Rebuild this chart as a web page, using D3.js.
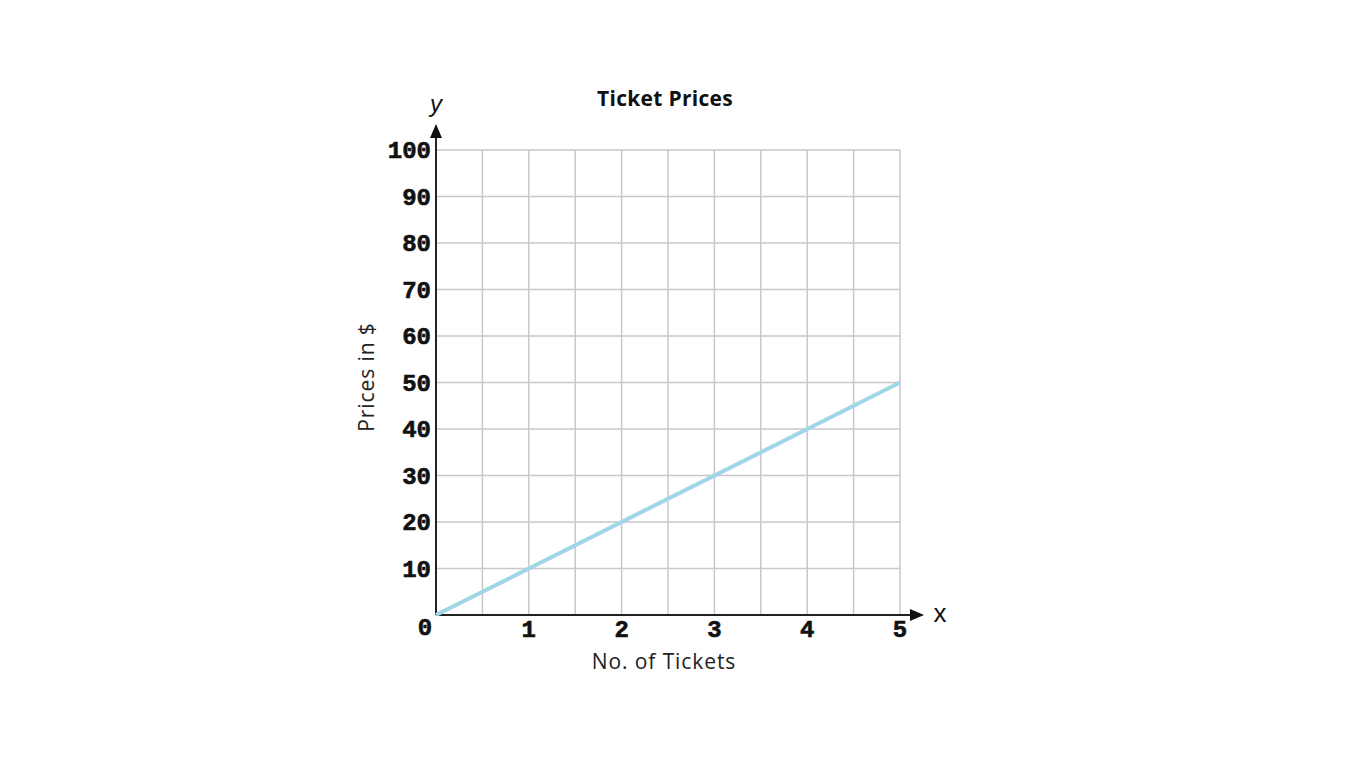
<!DOCTYPE html>
<html><head><meta charset="utf-8">
<script src="https://cdn.jsdelivr.net/npm/d3@7"></script>
<style>body{margin:0;background:#fff;}svg{display:block;}</style>
</head><body>
<svg id="c" width="1366" height="768"></svg>
<script>
const xTicks = [1, 2, 3, 4, 5];
const yTicks = [10, 20, 30, 40, 50, 60, 70, 80, 90, 100];
const lineX = [0, 5];
const lineY = [0, 50];
const title = "Ticket Prices";
const xLabel = "No. of Tickets";
const yLabel = "Prices in $";

const svg = d3.select("#c");
const x = d3.scaleLinear().domain([0, 5]).range([436, 900]);
const y = d3.scaleLinear().domain([0, 100]).range([615, 150]);

const gridX = d3.range(0.5, 5.01, 0.5);
const gridY = d3.range(10, 100.1, 10);
svg.append("g").selectAll("line").data(gridX).join("line")
  .attr("x1", d => x(d)).attr("x2", d => x(d)).attr("y1", y(0)).attr("y2", y(100))
  .attr("stroke", "#c8c8c8").attr("stroke-width", 1.5);
svg.append("g").selectAll("line").data(gridY).join("line")
  .attr("x1", x(0)).attr("x2", x(5)).attr("y1", d => y(d)).attr("y2", d => y(d))
  .attr("stroke", "#c8c8c8").attr("stroke-width", 1.5);

// axes
svg.append("line").attr("x1", x(0)).attr("x2", 912).attr("y1", y(0)).attr("y2", y(0)).attr("stroke", "#222").attr("stroke-width", 2);
svg.append("line").attr("x1", x(0)).attr("x2", x(0)).attr("y1", y(0)).attr("y2", 136).attr("stroke", "#222").attr("stroke-width", 2);
svg.append("path").attr("d", `M924,${y(0)} L910,${y(0)-6} L910,${y(0)+6} Z`).attr("fill", "#111");
svg.append("path").attr("d", `M${x(0)},124 L${x(0)-6},138 L${x(0)+6},138 Z`).attr("fill", "#111");

// line
svg.append("path").datum(lineX.map((d, i) => [d, lineY[i]]))
  .attr("d", d3.line().x(d => x(d[0])).y(d => y(d[1])))
  .attr("stroke", "#9ed7e6").attr("stroke-width", 4).attr("fill", "none");

const tickFont = "'Liberation Mono', 'Courier New', monospace";
function tickStyle(s) {
  return s.attr("font-family", tickFont).attr("font-weight", "bold").attr("font-size", 24)
    .attr("fill", "#111").attr("stroke", "#111").attr("stroke-width", 0.6);
}
svg.append("g").selectAll("text").data(yTicks).join("text")
  .attr("x", 431).attr("y", d => y(d) + 8).attr("text-anchor", "end")
  .call(tickStyle).text(d => d);
svg.append("text").attr("x", 425).attr("y", 635).attr("text-anchor", "middle")
  .call(tickStyle).text("0");
svg.append("g").selectAll("text").data(xTicks).join("text")
  .attr("x", d => x(d)).attr("y", 637).attr("text-anchor", "middle")
  .call(tickStyle).text(d => d);

svg.append("text").attr("x", 665).attr("y", 106).attr("text-anchor", "middle")
  .attr("font-family", "'Open Sans', sans-serif").attr("font-weight", "bold").attr("font-size", 21)
  .attr("letter-spacing", 0.3).attr("fill", "#111").text(title);
svg.append("text").attr("x", 664).attr("y", 669).attr("text-anchor", "middle")
  .attr("font-family", "'Open Sans', sans-serif").attr("font-size", 21).attr("letter-spacing", 0.9)
  .attr("fill", "#222").text(xLabel);
svg.append("text").attr("transform", "translate(374,377) rotate(-90)").attr("text-anchor", "middle")
  .attr("font-family", "'Open Sans', sans-serif").attr("font-size", 21).attr("letter-spacing", 0.9)
  .attr("fill", "#222").text(yLabel);
svg.append("text").attr("x", 436).attr("y", 112).attr("text-anchor", "middle")
  .attr("font-family", "'Liberation Sans', sans-serif").attr("font-style", "italic").attr("font-size", 24).attr("fill", "#111").text("y");
svg.append("text").attr("x", 940).attr("y", 622).attr("text-anchor", "middle")
  .attr("font-family", "'Liberation Sans', sans-serif").attr("font-size", 26).attr("fill", "#111").text("x");
</script>
</body></html>
